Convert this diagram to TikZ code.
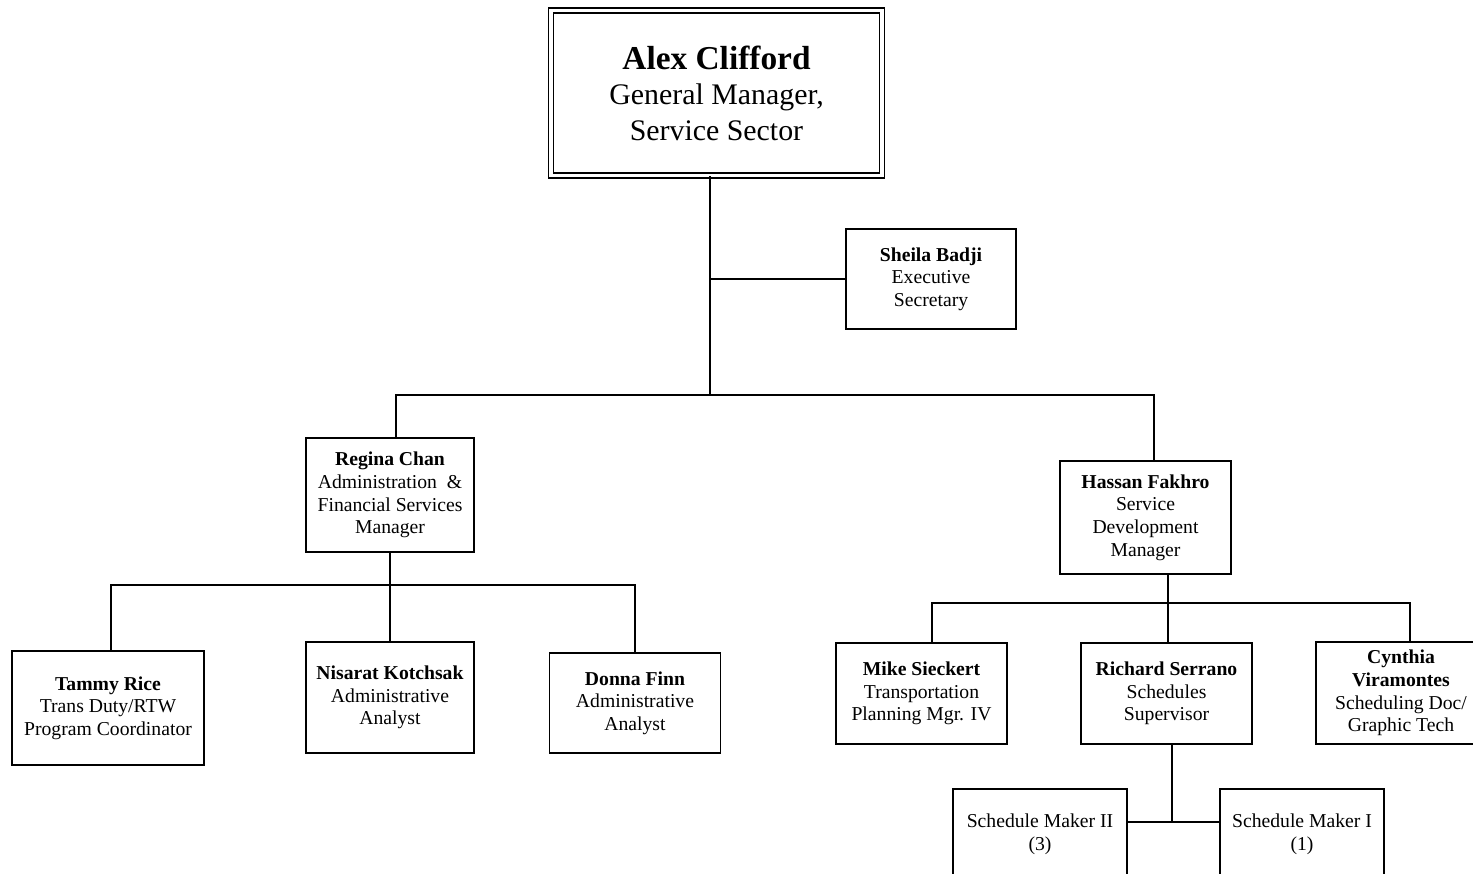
\documentclass[tikz,border=0pt]{standalone}
\usepackage{fontspec}
\setmainfont{Liberation Serif}
\usepackage{tikz}
\usetikzlibrary{calc}

\begin{document}
\begin{tikzpicture}[
    x=0.02cm,y=-0.02cm,
    box/.style={draw=black, line width=0.8pt, fill=white, inner sep=1pt, align=center, font=\fontsize{11.2}{12.9}\selectfont},
    head/.style={draw=black, line width=0.8pt, double, double distance=2pt, inner sep=2pt, align=center, font=\fontsize{17}{20.2}\selectfont},
    link/.style={draw=black, line width=1.1pt}
  ]
    \useasboundingbox (0,0) rectangle (1473,874);

    \node[head, minimum width=6.62cm, minimum height=3.3cm] (gm) at (716.5,93) {{\fontsize{19}{22}\selectfont\bfseries Alex Clifford}\\General Manager,\\Service Sector};
    \node[box, minimum width=3.4cm, minimum height=2.0cm] (sec) at (931,279) {\textbf{Sheila Badji}\\Executive\\Secretary};

    \node[box, minimum width=3.36cm, minimum height=2.28cm] (adm) at (390,495) {\textbf{Regina Chan}\\Administration \ \&\\Financial Services\\Manager};
    \node[box, minimum width=3.42cm, minimum height=2.26cm] (dev) at (1145.5,517.5) {\textbf{Hassan Fakhro}\\Service\\Development\\Manager};

    \node[box, minimum width=3.84cm, minimum height=2.28cm] (tam) at (108,708) {\textbf{Tammy Rice}\\Trans Duty/RTW\\Program Coordinator};
    \node[box, minimum width=3.36cm, minimum height=2.22cm] (nis) at (390,697.5) {\textbf{Nisarat Kotchsak}\\Administrative\\Analyst};
    \node[box, minimum width=3.42cm, minimum height=2.0cm] (don) at (635,703) {\textbf{Donna Finn}\\Administrative\\Analyst};

    \node[box, minimum width=3.42cm, minimum height=2.02cm] (mik) at (921.5,693.5) {\textbf{Mike Sieckert}\\Transportation\\Planning Mgr. IV};
    \node[box, minimum width=3.42cm, minimum height=2.02cm] (ric) at (1166.5,693.5) {\textbf{Richard Serrano}\\Schedules\\Supervisor};
    \node[box, minimum width=3.4cm, minimum height=2.04cm] (cyn) at (1401,693) {\textbf{Cynthia}\\\textbf{Viramontes}\\Scheduling Doc/\\Graphic Tech};

    \node[box, minimum width=3.48cm, minimum height=1.8cm] (sm2) at (1040,834) {Schedule Maker II\\(3)};
    \node[box, minimum width=3.28cm, minimum height=1.8cm] (sm1) at (1302,834) {Schedule Maker I\\(1)};

    \coordinate (top) at (710,395);
    \coordinate (ab) at (390,585);
    \coordinate (hb) at (1168,603);
    \coordinate (sm) at (1172,822);

    \draw[link] (gm.south -| top) -- (top);
    \draw[link] (sec.west) -- (sec.west -| top);
    \draw[link] ($(adm.north)+(6,0)$) |- (top) -| ($(dev.north)+(8.5,0)$);

    \draw[link] (adm.south) -- (nis.north);
    \draw[link] ($(tam.north)+(3,0)$) |- (ab) -| (don.north);

    \draw[link] (dev.south -| hb) -- (ric.north -| hb);
    \draw[link] ($(mik.north)+(10.5,0)$) |- (hb) -| ($(cyn.north)+(9,0)$);

    \draw[link] (ric.south -| sm) -- (sm);
    \draw[link] (sm2.east |- sm) -- (sm1.west |- sm);
  \end{tikzpicture}
\end{document}
